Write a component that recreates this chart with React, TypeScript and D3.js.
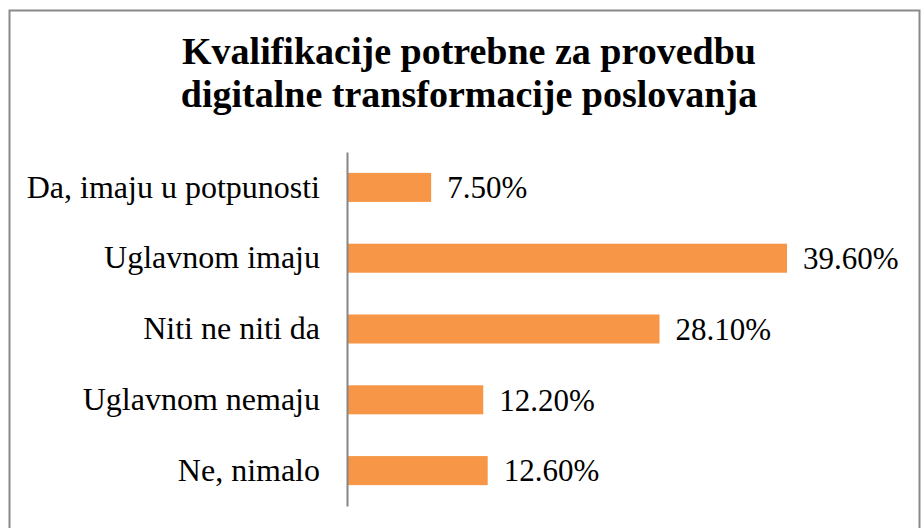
import React, { useEffect, useRef } from 'react';
import * as d3 from 'd3';

// Chart data
const categories = ['Da, imaju u potpunosti', 'Uglavnom imaju', 'Niti ne niti da', 'Uglavnom nemaju', 'Ne, nimalo'];
const values = [7.5, 39.6, 28.1, 12.2, 12.6];
const titleLines = ['Kvalifikacije potrebne za provedbu', 'digitalne transformacije poslovanja'];

const W = 922;
const H = 528;
const axisX = 347;
const font = '"Times New Roman", Times, "Liberation Serif", serif';

function App() {
    const ref = useRef<SVGSVGElement>(null);

    useEffect(() => {
        const svg = d3.select(ref.current).html('');

        svg.append('rect')
            .attr('x', 0).attr('y', 0).attr('width', W).attr('height', H)
            .attr('fill', '#fff');

        // Border of the chart area
        svg.append('rect')
            .attr('x', 9.5).attr('y', 10.5).attr('width', 910).attr('height', 530)
            .attr('fill', 'none')
            .attr('stroke', '#898989')
            .attr('stroke-width', 2);

        // Title
        svg.append('text')
            .attr('x', 469)
            .style('font-family', font)
            .style('font-size', '38px')
            .style('font-weight', 'bold')
            .attr('text-anchor', 'middle')
            .selectAll('tspan')
            .data(titleLines)
            .enter().append('tspan')
            .attr('x', 469)
            .attr('y', (d, i) => 64 + i * 43)
            .text((d) => d);

        // Scales
        const xScale = d3.scaleLinear().domain([0, 39.6]).range([axisX + 1, 787]);
        const yScale = d3.scaleBand().domain(categories).range([152, 506])
            .paddingInner(0.59).paddingOuter(0.295);

        // Bars
        svg.selectAll('.bar')
            .data(values)
            .enter().append('rect')
            .attr('class', 'bar')
            .attr('fill', '#F79646')
            .attr('x', xScale(0))
            .attr('y', (d, i) => yScale(categories[i])!)
            .attr('width', (d) => xScale(d) - xScale(0))
            .attr('height', yScale.bandwidth());

        // Value labels
        svg.selectAll('.val')
            .data(values)
            .enter().append('text')
            .attr('class', 'val')
            .attr('x', (d) => xScale(d) + 16)
            .attr('y', (d, i) => yScale(categories[i])! + yScale.bandwidth() / 2)
            .attr('dy', '0.35em')
            .style('font-family', font)
            .style('font-size', '31px')
            .attr('fill', '#000')
            .text((d) => d.toFixed(2) + '%');

        // Category axis
        const axis = svg.append('g')
            .attr('transform', `translate(${axisX},0)`)
            .call(d3.axisLeft(yScale).tickSize(0).tickPadding(27));
        axis.select('.domain').attr('stroke', '#868686').attr('stroke-width', 2);
        axis.selectAll('text')
            .style('font-family', font)
            .style('font-size', '32px')
            .attr('fill', '#000');
    }, []);

    return <svg ref={ref} width={W} height={H} style={{ position: 'absolute', left: 0, top: 0 }}></svg>;
}

export default App;
